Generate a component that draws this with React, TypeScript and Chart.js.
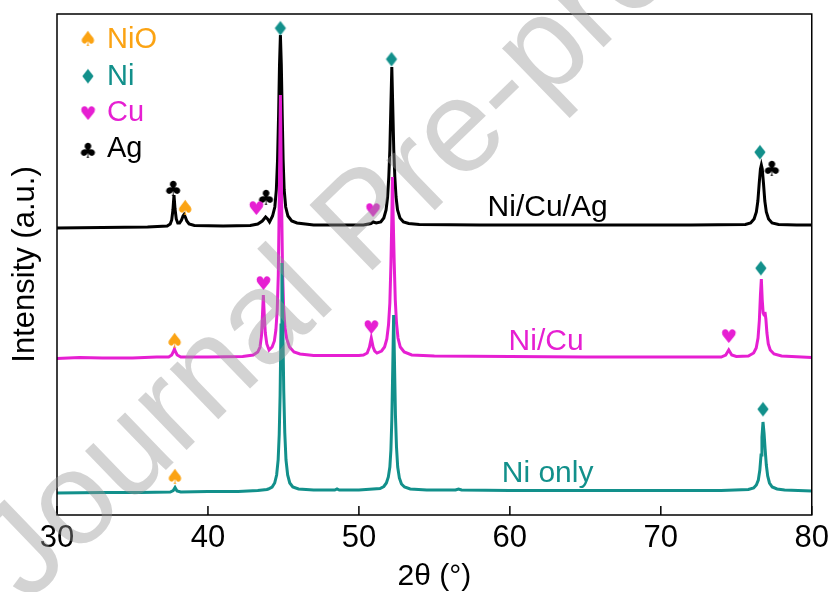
import React, { useEffect, useRef } from 'react';
import { Chart, registerables } from 'chart.js';

Chart.register(...registerables);

// ---------- data (2θ in degrees, intensity in arbitrary units incl. vertical offset) ----------
const X_MIN = 30;
const X_MAX = 80;
const X_TICKS = [30, 40, 50, 60, 70, 80];
const Y_MIN = 0;
const Y_MAX = 501;

const niOnly: [number, number][] = [
  [30, 22], [33, 22.5], [35.5, 22.5], [37.5, 23], [37.7, 24.5], [37.82, 27.5], [37.95, 24], [38.2, 23],
  [40, 23.5], [42, 23.5], [43.3, 24.5], [43.9, 25.5],
  [44.0, 26], [44.25, 28], [44.42, 32], [44.55, 40], [44.65, 55], [44.72, 80], [44.78, 120], [44.84, 190],
  [44.9, 252], [44.96, 190], [45.02, 125], [45.09, 82], [45.17, 55], [45.28, 40], [45.42, 32], [45.62, 28], [46.0, 26],
  [47, 25], [48.4, 25], [48.55, 26], [48.7, 25], [50, 25],
  [51.4, 26.5], [51.65, 28.5], [51.82, 32], [51.95, 38], [52.05, 48], [52.12, 65], [52.18, 95], [52.24, 145],
  [52.3, 200], [52.36, 150], [52.42, 100], [52.49, 68], [52.57, 48], [52.68, 37], [52.82, 31], [53.02, 28], [53.4, 26],
  [54.5, 25], [56.4, 25], [56.6, 26], [56.8, 25], [60, 24.5], [65, 24.5], [70, 24.5], [74, 24.5],
  [75.8, 25.5], [76.15, 27], [76.33, 30], [76.46, 35], [76.56, 45], [76.64, 60], [76.7, 78], [76.77, 93],
  [76.84, 82], [76.91, 66], [76.99, 50], [77.08, 39], [77.2, 32], [77.38, 28], [77.7, 26], [78.2, 25], [80, 24],
];

const niCu: [number, number][] = [
  [30, 156.5], [31.5, 157.5], [33, 157], [35, 157], [36.6, 158],
  [37.4, 158], [37.6, 160], [37.7, 163], [37.78, 166], [37.86, 163], [37.96, 160], [38.2, 158],
  [40, 158], [42.3, 158.5],
  [43.0, 160], [43.3, 163], [43.45, 168], [43.55, 180], [43.61, 200], [43.67, 220], [43.73, 200], [43.8, 182],
  [43.9, 171], [44.05, 165], [44.25, 168], [44.4, 174], [44.5, 185], [44.59, 205], [44.66, 240], [44.73, 320],
  [44.8, 420], [44.87, 325], [44.94, 245], [45.01, 208], [45.1, 188], [45.22, 176], [45.4, 168], [45.7, 163],
  [46.1, 161], [47, 159.5], [48.5, 159.5], [50.0, 159.5],
  [50.3, 160], [50.55, 162], [50.7, 168], [50.82, 177], [50.94, 168], [51.05, 164], [51.2, 162],
  [51.5, 164], [51.7, 168], [51.85, 176], [51.96, 190], [52.05, 212], [52.12, 250], [52.18, 295], [52.22, 338],
  [52.27, 298], [52.34, 252], [52.41, 215], [52.49, 192], [52.59, 177], [52.74, 168], [53.0, 163], [53.5, 160],
  [55, 159], [60, 158.5], [65, 158], [70, 158],
  [74.0, 158], [74.3, 160], [74.42, 163], [74.5, 165], [74.58, 163], [74.7, 160], [75.0, 158.5],
  [75.8, 159], [76.15, 162], [76.32, 167], [76.44, 177], [76.53, 195], [76.6, 220], [76.66, 236], [76.72, 215],
  [76.78, 202], [76.84, 200], [76.9, 203], [76.96, 196], [77.03, 182], [77.12, 171], [77.25, 165], [77.5, 161],
  [78, 159], [80, 157.5],
];

const niCuAg: [number, number][] = [
  [30, 287], [33, 287.5], [36, 288], [37.3, 289], [37.5, 291], [37.6, 295], [37.68, 305], [37.75, 320],
  [37.82, 306], [37.9, 296], [38.0, 292], [38.12, 292], [38.25, 295], [38.35, 299], [38.42, 300.5], [38.5, 298],
  [38.6, 294], [38.75, 291], [39.1, 289.5], [41, 289], [42.8, 289.5], [43.3, 291], [43.6, 294], [43.82, 298],
  [43.95, 296], [44.08, 293], [44.28, 299], [44.43, 308], [44.53, 325], [44.61, 355], [44.68, 400], [44.74, 450],
  [44.8, 480], [44.86, 450], [44.92, 400], [44.98, 355], [45.05, 325], [45.15, 308], [45.3, 299], [45.55, 294],
  [45.9, 292], [47, 290], [50.3, 290], [50.8, 291.5], [50.95, 293], [51.15, 292],
  [51.45, 293], [51.65, 297], [51.8, 305], [51.9, 318], [51.98, 338], [52.05, 365], [52.12, 410], [52.18, 448],
  [52.24, 410], [52.31, 365], [52.38, 338], [52.46, 318], [52.56, 305], [52.72, 297], [52.95, 293], [53.3, 291.5],
  [54, 290.5], [58, 290], [65, 290], [72, 290],
  [75.6, 290.5], [75.95, 292], [76.18, 296], [76.33, 303], [76.43, 314], [76.52, 332], [76.6, 346], [76.66, 350],
  [76.72, 346], [76.8, 332], [76.89, 314], [76.99, 303], [77.14, 296], [77.37, 292], [77.8, 290.5], [79, 290], [80, 290],
];

// phase markers (2θ, intensity)
const markNiO: [number, number][] = [[38.5, 308], [37.8, 175], [37.82, 39]];
const markNi: [number, number][] = [[44.8, 487], [52.16, 456], [76.57, 363], [76.63, 247], [76.77, 106]];
const markCu: [number, number][] = [[43.2, 307], [50.93, 305], [43.67, 232], [50.82, 188], [74.5, 179]];
const markAg: [number, number][] = [[37.7, 327], [43.85, 318], [77.36, 347]];

const SAMPLE_NAMES = ['Ni/Cu/Ag', 'Ni/Cu', 'Ni only'];
const SAMPLE_LABEL_AT: [number, number][] = [[62.5, 299], [62.4, 165], [62.5, 33]];
const PHASES = ['NiO', 'Ni', 'Cu', 'Ag'];
const PHASE_SYMBOLS = ['\u2660', '\u2666', '\u2665', '\u2663'];

// ---------- styles ----------
const BLACK = '#000000';
const MAGENTA = '#e61fd2';
const TEAL = '#12908b';
const ORANGE = '#fba313';
const PHASE_COLORS = [ORANGE, TEAL, MAGENTA, BLACK];
const SAMPLE_COLORS = [BLACK, MAGENTA, TEAL];
const FONT = '"Liberation Sans", Arial, Helvetica, sans-serif';
const GLYPH_SIZES = [21, 20, 19, 21];

function makeGlyph(ch: string, color: string, size: number): HTMLCanvasElement {
  const probe = document.createElement('canvas').getContext('2d')!;
  const font = `${size}px "DejaVu Sans"`;
  probe.font = font;
  const m = probe.measureText(ch);
  const w = Math.ceil(m.actualBoundingBoxLeft + m.actualBoundingBoxRight) + 2;
  const h = Math.ceil(m.actualBoundingBoxAscent + m.actualBoundingBoxDescent) + 2;
  const c = document.createElement('canvas');
  c.width = w;
  c.height = h;
  const ctx = c.getContext('2d')!;
  ctx.font = font;
  ctx.fillStyle = color;
  ctx.textAlign = 'left';
  ctx.textBaseline = 'alphabetic';
  ctx.fillText(ch, 1 + m.actualBoundingBoxLeft, 1 + m.actualBoundingBoxAscent);
  return c;
}

const toXY = (arr: [number, number][]) => arr.map(([x, y]) => ({ x, y }));

export default function App() {
  const ref = useRef<HTMLCanvasElement | null>(null);

  useEffect(() => {
    if (!ref.current) return;
    const glyphs = PHASE_SYMBOLS.map((s, i) => makeGlyph(s, PHASE_COLORS[i], GLYPH_SIZES[i]));

    const traceDs = (label: string, data: [number, number][], color: string, order: number) => ({
      label,
      data: toXY(data),
      showLine: true,
      borderColor: color,
      borderWidth: 3,
      pointRadius: 0,
      tension: 0,
      fill: false,
      order,
    });
    const markDs = (label: string, data: [number, number][], glyph: HTMLCanvasElement) => ({
      label,
      data: toXY(data),
      showLine: false,
      pointStyle: glyph,
      pointRadius: 6,
      order: 0,
    });

    const framePlugin = {
      id: 'frameAndText',
      afterDatasetsDraw(chart: any) {
        const { ctx, chartArea: a, scales } = chart;
        ctx.save();
        ctx.strokeStyle = '#000';
        ctx.lineWidth = 1.5;
        ctx.strokeRect(a.left, a.top, a.right - a.left, a.bottom - a.top);
        // inward ticks on bottom axis
        X_TICKS.forEach((v) => {
          const px = scales.x.getPixelForValue(v);
          ctx.beginPath();
          ctx.moveTo(px, a.bottom);
          ctx.lineTo(px, a.bottom - 9);
          ctx.stroke();
        });
        // sample labels
        ctx.font = `30px ${FONT}`;
        ctx.textAlign = 'center';
        ctx.textBaseline = 'alphabetic';
        SAMPLE_NAMES.forEach((name, i) => {
          const [x, y] = SAMPLE_LABEL_AT[i];
          ctx.fillStyle = SAMPLE_COLORS[i];
          ctx.fillText(name, scales.x.getPixelForValue(x), scales.y.getPixelForValue(y));
        });
        // phase legend
        ctx.font = `29px ${FONT}`;
        ctx.textAlign = 'left';
        const symCenters = [38, 76, 113, 150];
        const baselines = [48, 84.5, 120.5, 156.5];
        PHASES.forEach((p, i) => {
          const g = glyphs[i];
          ctx.drawImage(g, 88 - g.width / 2, symCenters[i] - g.height / 2);
          ctx.fillStyle = PHASE_COLORS[i];
          ctx.fillText(p, 107, baselines[i]);
        });
        ctx.restore();
      },
      afterDraw(chart: any) {
        const { ctx } = chart;
        ctx.save();
        ctx.translate(27, 604);
        ctx.rotate((-44 * Math.PI) / 180);
        ctx.font = `132px ${FONT}`;
        ctx.fillStyle = 'rgba(150,150,150,0.42)';
        ctx.textAlign = 'left';
        ctx.textBaseline = 'alphabetic';
        ctx.fillText('Journal Pre-proof', 0, 0);
        ctx.restore();
      },
    };

    const chart = new Chart(ref.current, {
      type: 'scatter',
      data: {
        datasets: [
          markDs('NiO', markNiO, glyphs[0]),
          markDs('Ni', markNi, glyphs[1]),
          markDs('Cu', markCu, glyphs[2]),
          markDs('Ag', markAg, glyphs[3]),
          traceDs('Ni only', niOnly, TEAL, 1),
          traceDs('Ni/Cu', niCu, MAGENTA, 2),
          traceDs('Ni/Cu/Ag', niCuAg, BLACK, 3),
        ] as any,
      },
      options: {
        responsive: false,
        animation: false,
        events: [],
        layout: { padding: { top: 14, right: 19, left: 0, bottom: 0 } },
        plugins: { legend: { display: false }, tooltip: { enabled: false } },
        scales: {
          x: {
            type: 'linear',
            min: X_MIN,
            max: X_MAX,
            afterBuildTicks: (s: any) => {
              s.ticks = X_TICKS.map((v) => ({ value: v }));
            },
            afterFit: (s: any) => {
              s.height = 77;
            },
            grid: { display: false, drawTicks: false },
            border: { display: false },
            ticks: {
              color: '#000',
              font: { size: 31, family: FONT },
              padding: 5,
              maxRotation: 0,
              autoSkip: false,
            },
            title: {
              display: true,
              text: '2θ (°)',
              color: '#000',
              font: { size: 30, family: FONT, lineHeight: 1 },
              padding: 0,
            },
          },
          y: {
            type: 'linear',
            min: Y_MIN,
            max: Y_MAX,
            afterFit: (s: any) => {
              s.width = 57;
            },
            grid: { display: false, drawTicks: false },
            border: { display: false },
            ticks: { display: false },
            title: {
              display: true,
              text: 'Intensity (a.u.)',
              color: '#000',
              font: { size: 31, family: FONT, lineHeight: 1 },
              padding: { top: 9.5, bottom: 0 },
            },
          },
        },
      },
      plugins: [framePlugin],
    });
    return () => chart.destroy();
  }, []);

  return (
    <div style={{ position: 'fixed', left: 0, top: 0, width: 834, height: 592, background: '#fff' }}>
      <canvas ref={ref} width={834} height={592} style={{ width: 834, height: 592, display: 'block' }} />
    </div>
  );
}
